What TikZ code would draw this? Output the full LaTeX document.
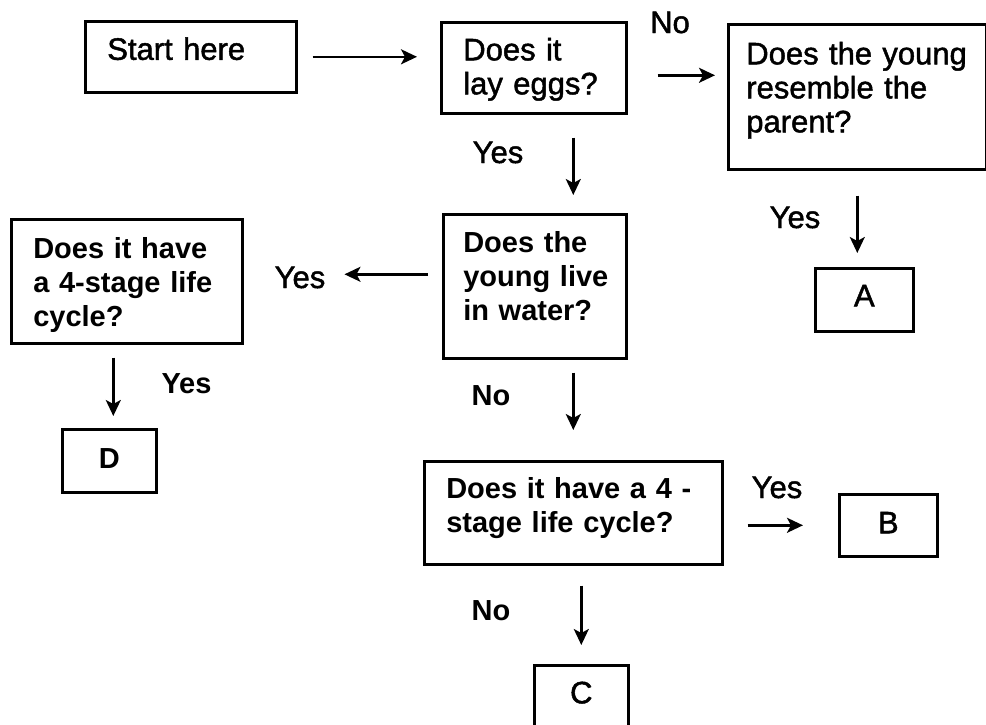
\documentclass[tikz,border=0pt]{standalone}
\usepackage{fontspec}
\setmainfont{Liberation Sans}
\newfontfamily\thinface{Liberation Sans}[FakeBold=1.5]
\newfontfamily\thickface{Liberation Sans Bold}
\usetikzlibrary{positioning, calc, arrows.meta}

\begin{document}
\begin{tikzpicture}[x=1pt, y=-1pt, line width=2.4pt,
    >={Stealth[length=16pt, width=15pt, inset=4pt]},
    thin text/.style={font=\thinface\fontsize{31}{34}\selectfont},
    thick text/.style={font=\thickface\fontsize{29}{34}\selectfont},
    answer/.style={inner sep=0pt, anchor=base}]
\useasboundingbox (0,0) rectangle (986,724);
\clip (0,0) rectangle (986,724);

% question boxes
\begin{scope}[every node/.style={draw, line width=2.6pt, anchor=north west, inner ysep=0pt, inner xsep=22pt, align=left}]
    \node[thin text, text width=167pt, text height=38.5pt, text depth=32.5pt] (start) at (84,20) {Start here};
    \node[thin text, text width=141pt, text height=38pt, text depth=53pt] (eggs) at (440,21) {Does it\\lay eggs?};
    \node[thin text, inner xsep=18pt, text width=222pt, text height=40pt, text depth=105pt] (resemble) at (727,23) {Does~the~young\\resemble the\\parent?};
    \node[thick text, inner xsep=20pt, text width=143pt, text height=38pt, text depth=106pt] (water) at (442,213) {Does the\\young~live\\in water?};
    \node[thick text, text width=187pt, text height=39pt, text depth=85pt] (stages) at (10,218) {Does it have\\a 4-stage life\\cycle?};
    \node[thick text, text width=254pt, text height=37pt, text depth=66pt] (stagesB) at (423,460) {Does it have a 4 -\\stage life cycle?};
\end{scope}

% answer boxes
\begin{scope}[every node/.style={draw, line width=2.6pt, anchor=north west, inner sep=0pt}]
    \node[thin text, minimum width=98pt, text height=38pt, text depth=25pt] (A) at (814,267) {A};
    \node[thick text, minimum width=94pt, text height=39pt, text depth=24pt] (D) at (61,428) {D};
    \node[thin text, minimum width=98pt, text height=39pt, text depth=23pt] (B) at (838,493) {B};
    \node[thin text, minimum width=94pt, text height=38pt, text depth=28pt] (C) at (533,664) {C};
\end{scope}

% answers
\node[answer, thin text] (noR) at (670,33) {No};
\node[answer, thin text] (yesE) at (498,163) {Yes};
\node[answer, thin text] (yesA) at (795,228) {Yes};
\node[answer, thin text] (yesL) at (300,288) {Yes};
\node[answer, thick text] (yesD) at (186.5,393) {Yes};
\node[answer, thick text] (noW) at (491,405) {No};
\node[answer, thin text] (yesB) at (777,498) {Yes};
\node[answer, thick text] (noC) at (491,620) {No};

\draw[->, shorten <=15pt, shorten >=23pt] (start.east) -- (start.east -| eggs.west);
\draw[->, shorten <=30pt, shorten >=12pt] ($(eggs.east)+(0,7.5)$) -- ($(eggs.east -| resemble.west)+(0,7.5)$);
\draw[->, shorten <=23pt, shorten >=18pt] ($(eggs.south)+(39.5,0)$) -- ($(eggs.south |- water.north)+(39.5,0)$);
\draw[->, shorten <=25pt, shorten >=14pt] (resemble.south) -- (resemble.south |- A.north);
\draw[->, shorten <=14pt, shorten >=18pt] ($(water.west)+(0,-12)$) -- ($(water.west -| yesL.east)+(0,-12)$);
\draw[->, shorten <=13pt, shorten >=12pt] ($(stages.south -| D.north)+(4,0)$) -- ($(D.north)+(4,0)$);
\draw[->, shorten <=13pt, shorten >=30pt] (water.south -| stagesB.north) -- (stagesB.north);
\draw[->, shorten <=24pt, shorten >=35pt] (stagesB.east |- B.west) -- (B.west);
\draw[->, shorten <=20pt, shorten >=19pt] (stagesB.south -| C.north) -- (C.north);
\end{tikzpicture}
\end{document}
